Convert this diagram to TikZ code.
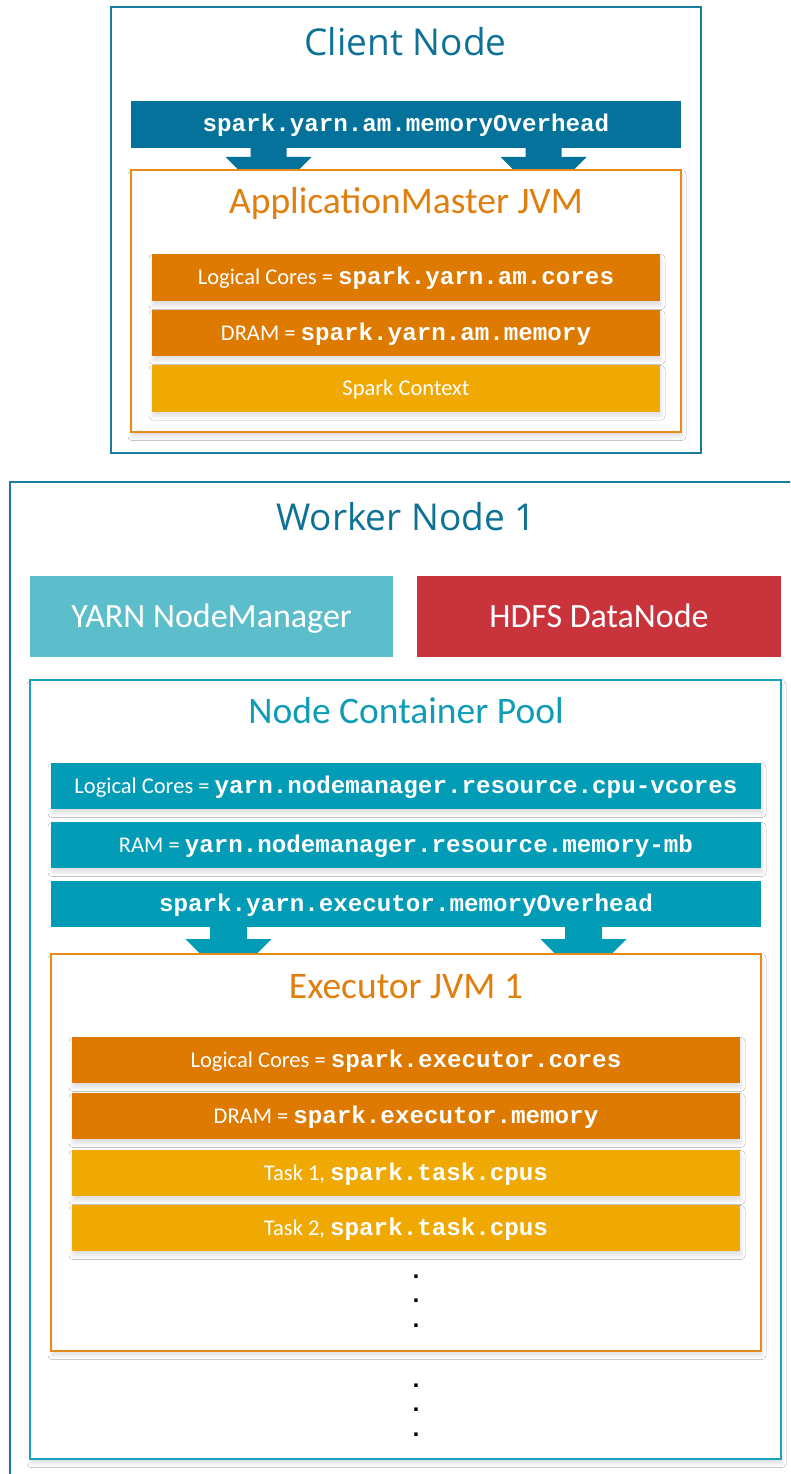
\documentclass[tikz,border=0pt]{standalone}
\usepackage{fontspec}
\setmainfont{Carlito}
\newfontfamily\headfont{Open Sans}
\newfontfamily\monofont{Liberation Mono}
\usetikzlibrary{calc,shadows.blur}

\definecolor{nodeblue}{HTML}{1A7D9C}
\definecolor{titleblue}{HTML}{0E7196}
\definecolor{ambar}{HTML}{04729A}
\definecolor{jvmline}{HTML}{E8891C}
\definecolor{jvmtitle}{HTML}{E07E0E}
\definecolor{darkorange}{HTML}{DE7A00}
\definecolor{ctxyellow}{HTML}{F0A902}
\definecolor{nmteal}{HTML}{5CBECA}
\definecolor{hdfsred}{HTML}{C9333B}
\definecolor{poolline}{HTML}{1BA3BD}
\definecolor{pooltitle}{HTML}{109CB7}
\definecolor{poolbar}{HTML}{039CB7}

\newcommand\cd[1]{{\monofont\bfseries\fontsize{24.2}{28}\selectfont #1}}

\tikzset{
  plain/.style={inner sep=0pt, outer sep=0pt},
  softshadow/.style={blur shadow={shadow xshift=1pt, shadow yshift=-4.5pt,
      shadow blur radius=4pt, shadow opacity=13, shadow blur steps=8}},
  frame/.style={plain, draw, line width=2pt, fill=white},
  nodeframe/.style={frame, draw=nodeblue},
  jvmframe/.style={frame, draw=jvmline, softshadow},
  poolframe/.style={frame, draw=poolline, softshadow},
  headtitle/.style={plain, anchor=base, text=titleblue,
      font=\headfont\fontsize{37}{44}\selectfont},
  boxtitle/.style={plain, anchor=base, font=\fontsize{37.5}{45}\selectfont},
  bar/.style={plain, text=white, text height=14.5pt, text depth=0pt,
      font=\fontsize{22.5}{27}\selectfont},
  shadedbar/.style={bar, softshadow},
  servicebox/.style={plain, text=white, text height=22pt, text depth=0pt,
      font=\fontsize{34}{40}\selectfont},
  ellipsisdot/.style={plain, font=\monofont\bfseries\fontsize{24}{28}\selectfont},
}

\begin{document}
\begin{tikzpicture}[x=1pt,y=-1pt]
\useasboundingbox (0,0) rectangle (790,1474);
\clip (0,0) rectangle (790,1474);
\fill[white] (0,0) rectangle (790,1474);

% ---------------- Client node ----------------
\node[nodeframe, minimum width=590pt, minimum height=446pt] (client) at (405.5,230) {};
\node[headtitle] (clienttitle) at (405.5,56) {Client Node};

\node[bar, fill=ambar, minimum width=550pt, minimum height=47pt] (amover) at (406,124.5)
  {\cd{spark.yarn.am.memoryOverhead}};

% block arrows from the overhead bar into the ApplicationMaster
\foreach \f in {0.25,0.75} {
  \coordinate (top) at ($(amover.south west)!\f!(amover.south east)$);
  \fill[ambar] ($(top)+(-18,0)$) -- ($(top)+(18,0)$) -- ($(top)+(18,9)$)
    -- ($(top)+(43,9)$) -- ($(top)+(0,52)$) -- ($(top)+(-43,9)$)
    -- ($(top)+(-18,9)$) -- cycle;
}

\node[jvmframe, minimum width=550pt, minimum height=262pt] (amjvm) at (406,301) {};
\node[boxtitle, text=jvmtitle] (amtitle) at (406,214) {ApplicationMaster JVM};

\node[shadedbar, fill=darkorange, minimum width=508pt, minimum height=47pt] (amcores) at (406,277.5)
  {Logical Cores = \cd{spark.yarn.am.cores}};
\node[shadedbar, fill=darkorange, minimum width=508pt, minimum height=46pt] (ammem) at (406,332.8)
  {DRAM = \cd{spark.yarn.am.memory}};
\node[shadedbar, fill=ctxyellow, minimum width=508pt, minimum height=46.5pt] (ctx) at (406,388.3)
  {Spark Context};

% ---------------- Worker node ----------------
\node[nodeframe, minimum width=800pt, minimum height=1020pt, anchor=north west] (worker) at (9.5,481.5) {};
\node[headtitle] (workertitle) at (406,530) {Worker Node 1};

\node[servicebox, fill=nmteal, minimum width=363pt, minimum height=81pt] (nm) at (211.5,616.5)
  {YARN NodeManager};
\node[servicebox, fill=hdfsred, minimum width=364pt, minimum height=81pt] (dn) at (599,616.5)
  {HDFS DataNode};

\node[poolframe, minimum width=751pt, minimum height=779pt] (pool) at (405.5,1069.5) {};
\node[boxtitle, text=pooltitle] (pooltitle) at (406,723) {Node Container Pool};

\node[shadedbar, fill=poolbar, minimum width=710pt, minimum height=46pt] (vcores) at (406,786)
  {Logical Cores = \cd{yarn.nodemanager.resource.cpu-vcores}};
\node[shadedbar, fill=poolbar, minimum width=710pt, minimum height=46pt] (nmmem) at (406,845)
  {RAM = \cd{yarn.nodemanager.resource.memory-mb}};
\node[bar, fill=poolbar, minimum width=710pt, minimum height=46pt] (exover) at (406,904)
  {\cd{spark.yarn.executor.memoryOverhead}};

% block arrows from the overhead bar into the executor
\foreach \f in {0.25,0.75} {
  \coordinate (top) at ($(exover.south west)!\f!(exover.south east)$);
  \fill[poolbar] ($(top)+(-18.5,0)$) -- ($(top)+(18.5,0)$) -- ($(top)+(18.5,12)$)
    -- ($(top)+(43,12)$) -- ($(top)+(0,55)$) -- ($(top)+(-43,12)$)
    -- ($(top)+(-18.5,12)$) -- cycle;
}

\node[jvmframe, minimum width=710pt, minimum height=397pt] (exjvm) at (406,1152.5) {};
\node[boxtitle, text=jvmtitle] (extitle) at (406,998) {Executor JVM 1};

\node[shadedbar, fill=darkorange, minimum width=668pt, minimum height=46pt] (excores) at (406,1060)
  {Logical Cores = \cd{spark.executor.cores}};
\node[shadedbar, fill=darkorange, minimum width=668pt, minimum height=46pt] (exmem) at (406,1116)
  {DRAM = \cd{spark.executor.memory}};
\node[shadedbar, fill=ctxyellow, minimum width=668pt, minimum height=46pt] (task1) at (406,1173)
  {Task 1, \cd{spark.task.cpus}};
\node[shadedbar, fill=ctxyellow, minimum width=668pt, minimum height=46pt] (task2) at (406,1228)
  {Task 2, \cd{spark.task.cpus}};

% vertical ellipses
\node[ellipsisdot] (ta) at (416,1277) {.};
\node[ellipsisdot] (tb) at (416,1301) {.};
\node[ellipsisdot] (tc) at (416,1326) {.};
\node[ellipsisdot] (ea) at (416,1386) {.};
\node[ellipsisdot] (eb) at (416,1410) {.};
\node[ellipsisdot] (ec) at (416,1435) {.};
\end{tikzpicture}
\end{document}
